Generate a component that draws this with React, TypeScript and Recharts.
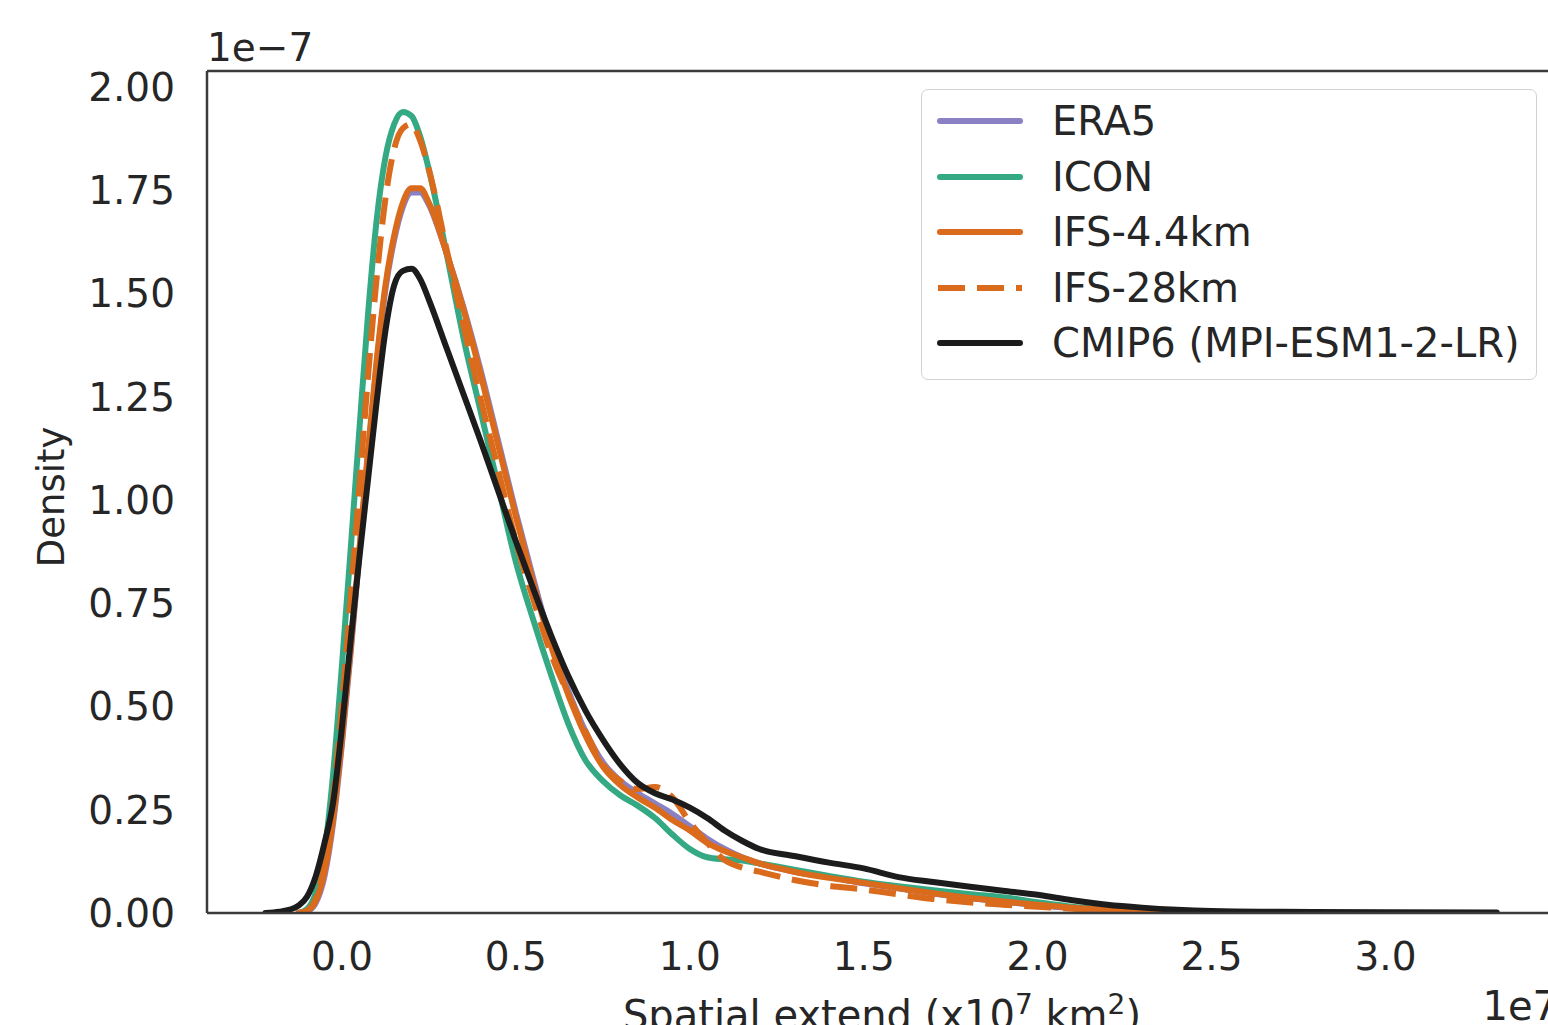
import React from 'react';
import { LineChart, Line, XAxis, YAxis, ReferenceLine, Legend } from 'recharts';

// x grid (units of 1e7 km^2)
const gridX = [
  -0.22, -0.18, -0.15, -0.125, -0.1, -0.075, -0.05, -0.025, 0, 0.025,
  0.05, 0.075, 0.1, 0.125, 0.15, 0.175, 0.2, 0.225, 0.25, 0.3,
  0.35, 0.4, 0.45, 0.5, 0.55, 0.6, 0.65, 0.7, 0.75, 0.8,
  0.85, 0.9, 0.95, 1.0, 1.05, 1.1, 1.15, 1.2, 1.3, 1.4,
  1.5, 1.6, 1.7, 1.8, 1.9, 2.0, 2.1, 2.2, 2.3, 2.4,
  2.5, 2.7, 3.0, 3.32,
];

// densities (units of 1e-7)
const era5 = [
  null, null, null, 0.0, 0.004, 0.025, 0.09, 0.22, 0.41, 0.63,
  0.87, 1.11, 1.33, 1.51, 1.63, 1.71, 1.745, 1.745, 1.715, 1.6,
  1.465, 1.31, 1.14, 0.97, 0.81, 0.66, 0.54, 0.44, 0.365, 0.32,
  0.29, 0.265, 0.24, 0.21, 0.18, 0.155, 0.135, 0.12, 0.1, 0.087,
  0.072, 0.06, 0.047, 0.036, 0.027, 0.019, 0.012, 0.007, 0.003, 0.001,
  0.0, null, null, null,
];
const icon = [
  null, null, null, 0.0, 0.01, 0.05, 0.15, 0.34, 0.6, 0.88,
  1.17, 1.45, 1.68, 1.83, 1.91, 1.94, 1.93, 1.88, 1.8, 1.6,
  1.39, 1.21, 1.03, 0.85, 0.71, 0.58, 0.46, 0.37, 0.32, 0.285,
  0.26, 0.23, 0.19, 0.155, 0.135, 0.13, 0.127, 0.12, 0.105, 0.09,
  0.076, 0.065, 0.055, 0.046, 0.038, 0.026, 0.015, 0.008, 0.003, 0.0,
  null, null, null, null,
];
const ifs44 = [
  null, null, null, 0.0, 0.005, 0.03, 0.1, 0.23, 0.42, 0.64,
  0.88, 1.12, 1.34, 1.52, 1.64, 1.72, 1.755, 1.755, 1.72, 1.6,
  1.46, 1.3, 1.13, 0.96, 0.8, 0.65, 0.53, 0.43, 0.355, 0.31,
  0.28, 0.255, 0.225, 0.2, 0.17, 0.15, 0.135, 0.12, 0.1, 0.085,
  0.073, 0.06, 0.048, 0.037, 0.028, 0.02, 0.013, 0.008, 0.004, 0.001,
  0.0, null, null, null,
];
const ifs28 = [
  null, null, null, 0.0, 0.006, 0.035, 0.12, 0.28, 0.5, 0.76,
  1.03, 1.3, 1.54, 1.73, 1.85, 1.9, 1.91, 1.87, 1.8, 1.61,
  1.42, 1.24, 1.07, 0.9, 0.76, 0.63, 0.53, 0.44, 0.36, 0.32,
  0.3, 0.305, 0.28, 0.22, 0.17, 0.128, 0.11, 0.1, 0.08, 0.066,
  0.057, 0.045, 0.034, 0.026, 0.02, 0.015, 0.01, 0.005, 0.002, 0.0,
  null, null, null, null,
];
const cmip6 = [
  0.0, 0.003, 0.008, 0.018, 0.04, 0.09, 0.17, 0.27, 0.45, 0.66,
  0.86, 1.05, 1.24, 1.41, 1.52, 1.555, 1.56, 1.535, 1.485, 1.37,
  1.255, 1.14, 1.02, 0.9, 0.785, 0.675, 0.575, 0.49, 0.42, 0.36,
  0.315, 0.29, 0.275, 0.255, 0.23, 0.2, 0.175, 0.155, 0.138, 0.122,
  0.108, 0.087, 0.075, 0.064, 0.054, 0.044, 0.031, 0.02, 0.013, 0.008,
  0.005, 0.003, 0.002, 0.001,
];

const xTicks = [0, 0.5, 1.0, 1.5, 2.0, 2.5, 3.0];
const yTicks = [0, 0.25, 0.5, 0.75, 1.0, 1.25, 1.5, 1.75, 2.0];

const SERIES = [
  { key: 'era5', name: 'ERA5', color: '#8a80c4', dash: undefined as string | undefined },
  { key: 'icon', name: 'ICON', color: '#35a983', dash: undefined },
  { key: 'ifs44', name: 'IFS-4.4km', color: '#da6a1c', dash: undefined },
  { key: 'ifs28', name: 'IFS-28km', color: '#da6a1c', dash: '27 12' },
  { key: 'cmip6', name: 'CMIP6 (MPI-ESM1-2-LR)', color: '#1c1c1c', dash: undefined },
];

const chartData = gridX.map((x, i) => ({
  x,
  era5: era5[i],
  icon: icon[i],
  ifs44: ifs44[i],
  ifs28: ifs28[i],
  cmip6: cmip6[i],
}));

const X_MIN = -0.388;
const X_MAX = 3.496;
const Y_MAX = 2.039;
const FONT = "'DejaVu Sans', sans-serif";
const TEXT = '#262626';
const SPINE = '#3a3a3a';
const LW = 6;

const renderLegend = (props: any) => {
  const payload: any[] = props && props.payload ? props.payload : [];
  const items = SERIES.map((s) => {
    const p = payload.find((e) => e.value === s.name);
    return { ...s, color: p && p.color ? p.color : s.color };
  });
  return (
    <div
      style={{
        width: 616,
        height: 291,
        boxSizing: 'border-box',
        border: '1.5px solid #d2d2d2',
        borderRadius: 7,
        background: 'rgba(255,255,255,0.9)',
        position: 'relative',
        fontFamily: FONT,
      }}
    >
      {items.map((s, i) => {
        const cy = 31 + i * 55.5;
        return (
          <div key={s.key} style={{ position: 'absolute', left: 0, top: cy - 25, height: 50, width: 610 }}>
            <svg width={110} height={50} style={{ position: 'absolute', left: 0, top: 0 }}>
              <line
                x1={s.dash ? 16 : 18}
                x2={s.dash ? 100 : 98}
                y1={25}
                y2={25}
                stroke={s.color}
                strokeWidth={LW}
                strokeDasharray={s.dash}
                strokeLinecap={s.dash ? 'butt' : 'round'}
              />
            </svg>
            <span
              style={{
                position: 'absolute',
                left: 130,
                top: 0,
                lineHeight: '50px',
                fontSize: 40,
                color: TEXT,
                whiteSpace: 'nowrap',
              }}
            >
              {s.name}
            </span>
          </div>
        );
      })}
    </div>
  );
};

export default function App() {
  return (
    <div
      style={{
        position: 'fixed',
        left: 0,
        top: 0,
        width: 1548,
        height: 1025,
        overflow: 'hidden',
        background: '#ffffff',
      }}
    >
      <LineChart
        width={1600}
        height={1060}
        data={chartData}
        margin={{ top: 71, right: 42, bottom: 67, left: 57 }}
      >
        <XAxis
          type="number"
          dataKey="x"
          domain={[X_MIN, X_MAX]}
          allowDataOverflow
          ticks={xTicks}
          interval={0}
          height={80}
          tickLine={false}
          tickSize={0}
          tickMargin={29}
          axisLine={{ stroke: SPINE, strokeWidth: 2.5 }}
          tick={{ fontSize: 39, fill: TEXT, fontFamily: FONT }}
          tickFormatter={(v: number) => v.toFixed(1)}
        />
        <YAxis
          type="number"
          domain={[0, Y_MAX]}
          allowDataOverflow
          ticks={yTicks}
          interval={0}
          width={150}
          tickLine={false}
          tickSize={0}
          tickMargin={32}
          axisLine={{ stroke: SPINE, strokeWidth: 2.5 }}
          tick={{ fontSize: 39, fill: TEXT, fontFamily: FONT }}
          tickFormatter={(v: number) => v.toFixed(2)}
        />
        <ReferenceLine y={Y_MAX} stroke={SPINE} strokeWidth={2.5} ifOverflow="visible" />
        <ReferenceLine x={X_MAX} stroke={SPINE} strokeWidth={2.5} ifOverflow="visible" />
        <Legend
          layout="vertical"
          align="center"
          verticalAlign="middle"
          content={renderLegend}
          wrapperStyle={{ position: 'absolute', left: 921, top: 89, width: 616, height: 291 }}
        />
        {SERIES.map((s) => (
          <Line
            key={s.key}
            type="monotone"
            dataKey={s.key}
            name={s.name}
            stroke={s.color}
            strokeWidth={LW}
            strokeDasharray={s.dash}
            strokeLinecap={s.dash ? 'butt' : 'round'}
            strokeLinejoin="round"
            dot={false}
            activeDot={false}
            isAnimationActive={false}
            connectNulls={false}
          />
        ))}
      </LineChart>
      <svg
        width={1548}
        height={1025}
        style={{ position: 'absolute', left: 0, top: 0, pointerEvents: 'none' }}
      >
        <text x={207} y={61} fontSize={39} fill={TEXT} fontFamily={FONT}>
          1e−7
        </text>
        <text
          x={0}
          y={0}
          transform="translate(64,497) rotate(-90)"
          textAnchor="middle"
          fontSize={37}
          fill={TEXT}
          fontFamily={FONT}
        >
          Density
        </text>
        <text x={882} y={1029} textAnchor="middle" fontSize={40} fill={TEXT} fontFamily={FONT}>
          Spatial extend (x10
          <tspan fontSize={28} dy={-15}>7</tspan>
          <tspan dy={15}> km</tspan>
          <tspan fontSize={28} dy={-15}>2</tspan>
          <tspan dy={15}>)</tspan>
        </text>
        <text x={1558} y={1020} textAnchor="end" fontSize={40} fill={TEXT} fontFamily={FONT}>
          1e7
        </text>
      </svg>
    </div>
  );
}
